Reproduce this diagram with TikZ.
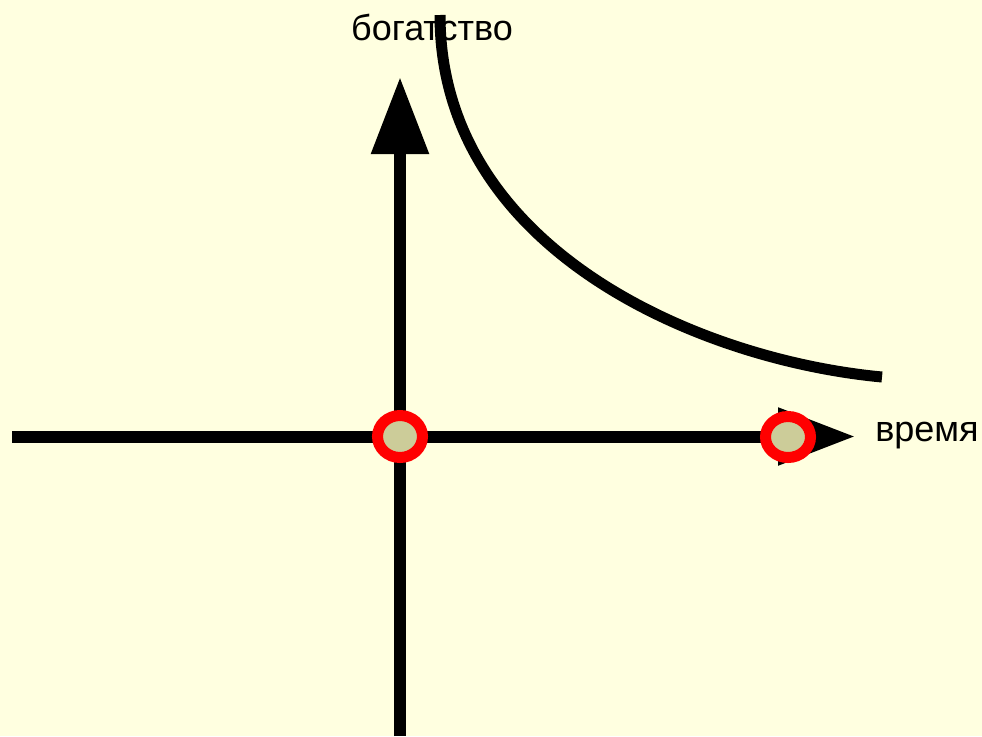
\documentclass[tikz,border=0pt]{standalone}
\usepackage{fontspec}
\setmainfont{Liberation Sans}
\usetikzlibrary{arrows.meta}
\definecolor{paper}{RGB}{255,255,224}
\definecolor{dotfill}{RGB}{204,204,153}
\begin{document}
\begin{tikzpicture}[
        x=0.75pt, y=-0.75pt,
        axis/.style={line width=9pt, -{Triangle[length=57.75pt, width=41.25pt]}},
        curve/.style={line width=8.25pt, line cap=butt},
        dot/.style={draw=red, fill=dotfill, line width=8.25pt},
        label/.style={font=\fontsize{27}{32}\selectfont, inner sep=0pt}
    ]
    % --- Background ---
    \fill[paper] (0,0) rectangle (982,736);
    \useasboundingbox (0,0) rectangle (982,736);

    % --- Axes ---
    \coordinate (origin) at (400,436.5);
    \coordinate (xstart) at (12,436.5);
    \coordinate (xend) at (855,436.5);
    \coordinate (ystart) at (400,736);
    \coordinate (yend) at (400,77);
    \draw[axis] (xstart) -- (xend);
    \draw[axis] (ystart) -- (yend);

    % --- Points ---
    \coordinate (tpoint) at (788,437);
    \draw[dot] (origin) ellipse [x radius=22.5, y radius=21];
    \draw[dot] (tpoint) ellipse [x radius=22.5, y radius=20.5];

    % --- Labels ---
    \node[label, anchor=base] (wealth) at (432,40) {богатство};
    \node[label, anchor=base west] (time) at (875,441) {время};

    % --- Curve ---
    \coordinate (ctop) at (440,15);
    \coordinate (cend) at (882,377);
    \draw[curve] (ctop) .. controls (440,250) and (700,360) .. (cend);
\end{tikzpicture}
\end{document}
